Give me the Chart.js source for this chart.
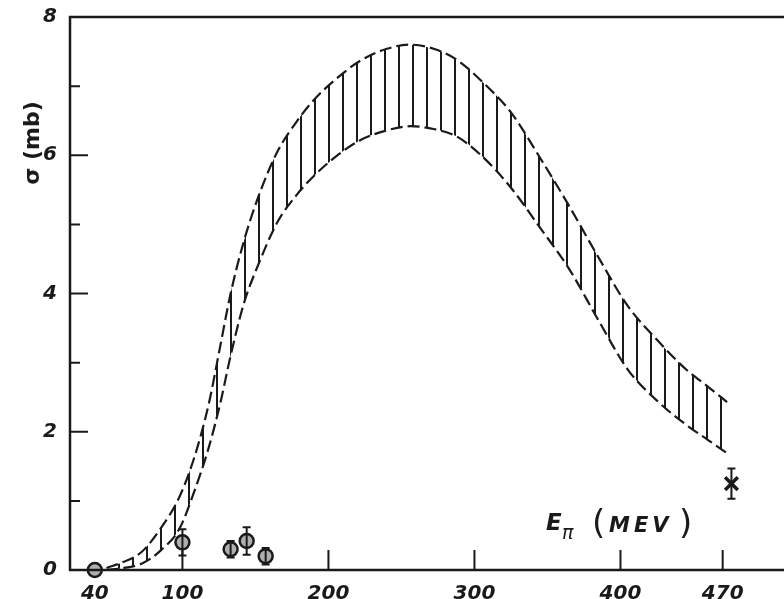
<!DOCTYPE html>
<html>
<head>
<meta charset="utf-8">
<script src="https://cdn.jsdelivr.net/npm/chart.js@4.4.1/dist/chart.umd.min.js"></script>
<style>
  html, body { margin: 0; padding: 0; background: #fff; overflow: hidden; }
  canvas { display: block; }
</style>
</head>
<body>
<canvas id="grafico" width="784" height="599"></canvas>
<script>
// pion energy (MeV) and the two edges of the hatched band (mb)
const energies = [48, 60, 72, 85, 98, 108, 118, 126, 133, 142, 152, 165, 178, 190, 205,
                  222, 240, 256, 272, 288, 305, 325, 345, 365, 385, 405, 425, 445, 460, 473];
const sigmaUpper = [0.03, 0.12, 0.26, 0.6, 1.06, 1.62, 2.4, 3.25, 4.0, 4.75, 5.4, 6.05, 6.48, 6.8, 7.1,
                    7.37, 7.54, 7.6, 7.54, 7.38, 7.07, 6.62, 5.96, 5.26, 4.52, 3.82, 3.33, 2.9, 2.65, 2.43];
const sigmaLower = [0, 0.03, 0.09, 0.28, 0.6, 1.13, 1.77, 2.42, 3.1, 3.85, 4.42, 5.03, 5.42, 5.7, 5.98,
                    6.22, 6.36, 6.42, 6.38, 6.27, 5.99, 5.53, 4.95, 4.35, 3.61, 2.9, 2.45, 2.1, 1.88, 1.69];

// measured points
const pointE = [40, 100, 133, 144, 157, 476];
const pointSigma = [0, 0.4, 0.3, 0.42, 0.2, 1.25];
const pointErr = [0, 0.19, 0.12, 0.2, 0.12, 0.22];

const ticksX = [40, 100, 200, 300, 400, 470];
const ticksY = [0, 2, 4, 6, 8];

const ink = '#1a1a1a';
const labelFont = { family: 'DejaVu Sans', size: 20, weight: 'bold', style: 'italic' };

document.addEventListener('DOMContentLoaded', function () {
    const canvas = document.getElementById('grafico');
    const ctx = canvas.getContext('2d');

    // vertical hatching between the two dashed curves
    const tile = document.createElement('canvas');
    tile.width = 14;
    tile.height = 14;
    const t = tile.getContext('2d');
    t.strokeStyle = ink;
    t.lineWidth = 2;
    t.beginPath();
    t.moveTo(7, 0);
    t.lineTo(7, 14);
    t.stroke();
    const hatch = ctx.createPattern(tile, 'repeat');

    const frame = {
        id: 'frame',
        afterDraw(chart) {
            const c = chart.ctx;
            const a = chart.chartArea;
            const { x, y } = chart.scales;
            c.save();
            c.strokeStyle = ink;
            c.lineWidth = 2.5;
            c.beginPath();
            c.moveTo(a.right, a.top);
            c.lineTo(a.left, a.top);
            c.lineTo(a.left, a.bottom);
            c.lineTo(a.right, a.bottom);
            c.stroke();

            // inward tick marks
            c.lineWidth = 2;
            c.beginPath();
            ticksX.slice(1).forEach(v => {
                const px = x.getPixelForValue(v);
                c.moveTo(px, a.bottom);
                c.lineTo(px, a.bottom - 20);
            });
            for (let v = 1; v < 8; v++) {
                const py = y.getPixelForValue(v);
                c.moveTo(a.left, py);
                c.lineTo(a.left + (v % 2 ? 10 : 18), py);
            }
            c.stroke();

            // axis titles
            c.fillStyle = ink;
            c.save();
            c.translate(33, 143);
            c.rotate(-Math.PI / 2);
            c.font = 'bold 22px "DejaVu Sans"';
            c.textAlign = 'center';
            c.textBaseline = 'middle';
            c.fillText('σ (mb)', 0, 0);
            c.restore();

            c.textBaseline = 'alphabetic';
            c.textAlign = 'left';
            c.font = 'italic bold 23px "DejaVu Sans"';
            c.fillText('E', 546, 530);
            c.font = 'italic 19px "DejaVu Sans"';
            c.fillText('π', 562, 539);
            c.font = '34px "DejaVu Sans"';
            c.fillText('(', 592, 534);
            c.fillText(')', 679, 534);
            c.font = 'italic bold 21px "DejaVu Sans"';
            c.letterSpacing = '4px';
            c.fillText('MEV', 609, 532);
            c.restore();
        }
    };

    const errorBars = {
        id: 'errorBars',
        afterDatasetsDraw(chart) {
            const c = chart.ctx;
            const { x, y } = chart.scales;
            c.save();
            c.strokeStyle = ink;
            c.lineWidth = 2;
            pointE.forEach((e, i) => {
                if (!pointErr[i]) return;
                const px = x.getPixelForValue(e);
                const top = y.getPixelForValue(pointSigma[i] + pointErr[i]);
                const bot = y.getPixelForValue(pointSigma[i] - pointErr[i]);
                c.beginPath();
                c.moveTo(px, top);
                c.lineTo(px, bot);
                c.moveTo(px - 4, top);
                c.lineTo(px + 4, top);
                c.moveTo(px - 4, bot);
                c.lineTo(px + 4, bot);
                c.stroke();
            });
            c.restore();
        }
    };

    const curve = {
        showLine: true,
        borderColor: ink,
        borderWidth: 2.2,
        borderDash: [12, 5],
        pointRadius: 0,
        cubicInterpolationMode: 'monotone'
    };

    const isLast = c => c.dataIndex === pointE.length - 1;

    new Chart(ctx, {
        type: 'scatter',
        data: {
            datasets: [
                Object.assign({}, curve, {
                    label: 'upper',
                    data: energies.map((e, i) => ({ x: e, y: sigmaUpper[i] })),
                    fill: '+1',
                    backgroundColor: hatch
                }),
                Object.assign({}, curve, {
                    label: 'lower',
                    data: energies.map((e, i) => ({ x: e, y: sigmaLower[i] })),
                    fill: false
                }),
                {
                    label: 'data',
                    data: pointE.map((e, i) => ({ x: e, y: pointSigma[i] })),
                    pointStyle: c => isLast(c) ? 'crossRot' : 'circle',
                    pointRadius: c => isLast(c) ? 9 : 7,
                    pointBorderWidth: c => isLast(c) ? 3.5 : 2.5,
                    pointBackgroundColor: 'rgba(110,110,110,0.55)',
                    pointBorderColor: ink,
                    clip: false
                }
            ]
        },
        options: {
            responsive: false,
            animation: false,
            devicePixelRatio: 1,
            layout: { autoPadding: false, padding: { top: 13, right: 0, left: 0, bottom: 0 } },
            plugins: {
                legend: { display: false },
                tooltip: { enabled: false }
            },
            scales: {
                x: {
                    type: 'linear',
                    min: 23,
                    max: 512,
                    grid: { display: false },
                    border: { display: false },
                    afterBuildTicks: scale => { scale.ticks = ticksX.map(v => ({ value: v })); },
                    afterFit: scale => {
                        scale.height = 29;
                        scale.paddingLeft = 0;
                        scale.paddingRight = 0;
                    },
                    ticks: {
                        autoSkip: false,
                        maxRotation: 0,
                        padding: 4,
                        color: ink,
                        font: labelFont
                    }
                },
                y: {
                    min: 0,
                    max: 8,
                    grid: { display: false },
                    border: { display: false },
                    afterBuildTicks: scale => { scale.ticks = ticksY.map(v => ({ value: v })); },
                    afterFit: scale => { scale.width = 70; },
                    ticks: {
                        padding: 5,
                        color: ink,
                        font: labelFont
                    }
                }
            }
        },
        plugins: [errorBars, frame]
    });
});
</script>
</body>
</html>
